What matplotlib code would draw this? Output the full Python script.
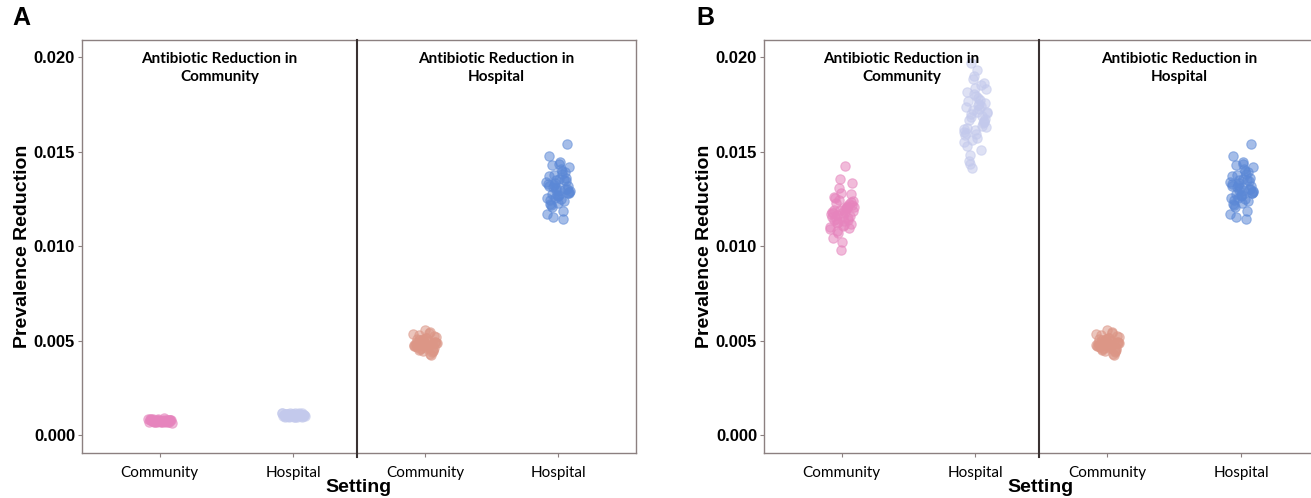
import matplotlib
matplotlib.use("Agg")
import matplotlib.pyplot as plt
import numpy as np

# group labels on the x axis of each facet
settings = ["Community", "Hospital"]
facet_titles = ["Antibiotic Reduction in\nCommunity", "Antibiotic Reduction in\nHospital"]

# prevalence reduction (x 1e-4) per simulation run
# panel A, reduction in community
a_comm_comm = [7.2, 7.8, 6.9, 8.1, 7.5, 7.0, 8.4, 7.7, 6.8, 7.9, 7.3, 8.6, 7.1, 7.6, 8.0, 6.7,
               7.4, 8.2, 7.8, 7.0, 8.8, 7.5, 6.9, 7.2, 8.3, 7.7, 7.9, 6.6, 7.4, 8.5, 7.1, 7.6,
               8.0, 7.3, 6.8, 8.1, 7.5, 7.9, 7.2, 8.7]
a_comm_hosp = [10.2, 10.8, 9.6, 11.3, 10.5, 9.9, 11.7, 10.1, 10.9, 9.4, 11.0, 10.4, 11.9, 10.0,
               10.7, 9.7, 11.2, 10.3, 10.6, 11.5, 9.8, 10.9, 10.2, 11.1, 9.5, 10.5, 11.8, 10.0,
               10.8, 9.9, 11.4, 10.6, 10.3, 11.0, 9.7, 10.4, 11.6, 10.1, 10.7, 11.2]
# panel B, reduction in community
b_comm_comm = [116.4, 121.8, 110.5, 119.3, 113.7, 124.6, 108.9, 117.9, 122.7, 111.8, 128.3, 115.2,
               120.4, 106.7, 118.6, 113.0, 126.1, 109.8, 135.2, 116.9, 119.9, 112.4, 123.5, 102.1,
               117.3, 114.8, 130.9, 120.9, 111.1, 125.4, 115.9, 97.8, 118.2, 121.3, 108.1, 133.6,
               116.1, 113.9, 122.2, 119.0, 110.0, 142.3, 114.3, 127.4, 117.6, 104.5, 120.1, 112.9,
               124.0, 118.9]
b_comm_hosp = [168.2, 175.6, 159.4, 181.3, 163.7, 171.9, 154.8, 178.4, 166.5, 186.2, 161.2, 173.5,
               150.6, 169.7, 182.9, 157.3, 176.8, 164.9, 190.1, 160.2, 172.6, 148.3, 167.3, 179.6,
               162.5, 185.0, 155.9, 170.8, 174.4, 145.2, 165.7, 180.5, 158.8, 177.2, 196.8, 163.0,
               171.1, 152.7, 168.9, 188.4, 161.8, 175.0, 143.6, 166.1, 183.7, 159.9, 173.9, 141.3,
               170.2, 192.9]
# reduction in hospital (same in both panels)
hosp_comm = [47.5, 49.2, 45.8, 51.0, 48.3, 44.6, 53.2, 47.0, 50.1, 46.2, 55.4, 48.8, 43.1, 49.7,
             52.0, 46.9, 48.0, 44.2, 50.6, 47.3, 53.8, 45.5, 49.0, 51.6, 47.8, 42.5, 50.3, 48.5,
             46.4, 52.7, 44.9, 49.4, 47.1, 54.5, 45.9, 48.7, 51.2, 46.6, 43.8, 50.0, 47.6, 49.9,
             45.2, 52.3, 48.1]
hosp_hosp = [131.2, 127.8, 135.6, 122.4, 139.1, 129.5, 133.8, 124.9, 142.7, 130.1, 126.3, 136.9,
             118.6, 132.5, 128.7, 144.3, 121.7, 134.4, 130.8, 125.6, 138.2, 115.3, 131.9, 127.1,
             147.6, 123.8, 133.1, 129.0, 140.5, 120.4, 136.2, 126.9, 132.9, 114.4, 137.7, 128.1,
             143.4, 124.3, 130.4, 134.9, 117.2, 139.8, 127.5, 154.0, 122.9, 131.6, 135.1, 125.2,
             141.9, 129.8]

col_cc = "#e684bd"
col_ch = "#c3c9ec"
col_hc = "#dc9686"
col_hh = "#5b88d6"
frame_col = "#8c8080"

plt.rcParams["font.family"] = ["Liberation Sans", "DejaVu Sans"]

W, H = 1311, 498
fig = plt.figure(figsize=(W / 100, H / 100), dpi=100)


def jitter(n, width=0.09):
    # deterministic spread along x (golden-ratio sequence)
    k = np.arange(n)
    return ((k * 0.6180339887 + 0.31) % 1.0 - 0.5) * 2 * width


def strip(ax, groups, xlim, title, first):
    for i, (vals, col) in enumerate(groups):
        v = np.array(vals) * 1e-4
        ax.scatter(i + 1 + jitter(len(v)), v, s=46, color=col, alpha=0.55,
                   edgecolors=col, linewidths=0.8, zorder=3)
    ax.set_xlim(*xlim)
    ax.set_ylim(-0.00095, 0.0209)
    ax.set_xticks([1, 2])
    ax.set_xticklabels(settings, family=["Lato", "DejaVu Sans"], fontsize=11)
    ax.tick_params(axis="x", length=3, color=frame_col, pad=6)
    ax.text(0.5, 0.97, title, transform=ax.transAxes, ha="center", va="top",
            fontsize=11, fontweight="bold", family=["Lato", "DejaVu Sans"],
            linespacing=1.3)
    for s in ["top", "bottom", "left", "right"]:
        ax.spines[s].set_color(frame_col)
        ax.spines[s].set_linewidth(1.0)
    if first:
        ax.spines["right"].set_visible(False)
        ax.set_yticks([0.0, 0.005, 0.010, 0.015, 0.020])
        ax.set_yticklabels(["0.000", "0.005", "0.010", "0.015", "0.020"],
                           fontsize=12, fontweight="bold")
        ax.tick_params(axis="y", length=3, color=frame_col, pad=2)
        ax.set_ylabel("Prevalence Reduction", fontsize=14, fontweight="bold", labelpad=2)
    else:
        ax.spines["left"].set_visible(False)
        ax.set_yticks([])
        # dark divider between the two facets
        ax.plot([0, 0], [-0.01, 1], transform=ax.transAxes, color="#3a3232",
                lw=1.5, clip_on=False, zorder=5)


bottom = (H - 453) / H
height = 413 / H
panels = [
    (82, 357, 636, a_comm_comm, a_comm_hosp, "A", 12),
    (764, 1039, 1320, b_comm_comm, b_comm_hosp, "B", 696),
]
for left, mid, right, cc, ch, tag, tag_x in panels:
    ax1 = fig.add_axes([left / W, bottom, (mid - left) / W, height])
    strip(ax1, [(cc, col_cc), (ch, col_ch)], (0.418, 2.478), facet_titles[0], True)
    ax2 = fig.add_axes([mid / W, bottom, (right - mid) / W, height])
    strip(ax2, [(hosp_comm, col_hc), (hosp_hosp, col_hh)], (0.489, 2.586), facet_titles[1], False)
    fig.text((mid + 1) / W, 1 - 487 / H, "Setting", ha="center", va="center",
             fontsize=14, fontweight="bold")
    fig.text(tag_x / W, 1 - 18 / H, tag, ha="left", va="center", fontsize=18, fontweight="bold")

fig.savefig("out.png", dpi=100, facecolor="white")
